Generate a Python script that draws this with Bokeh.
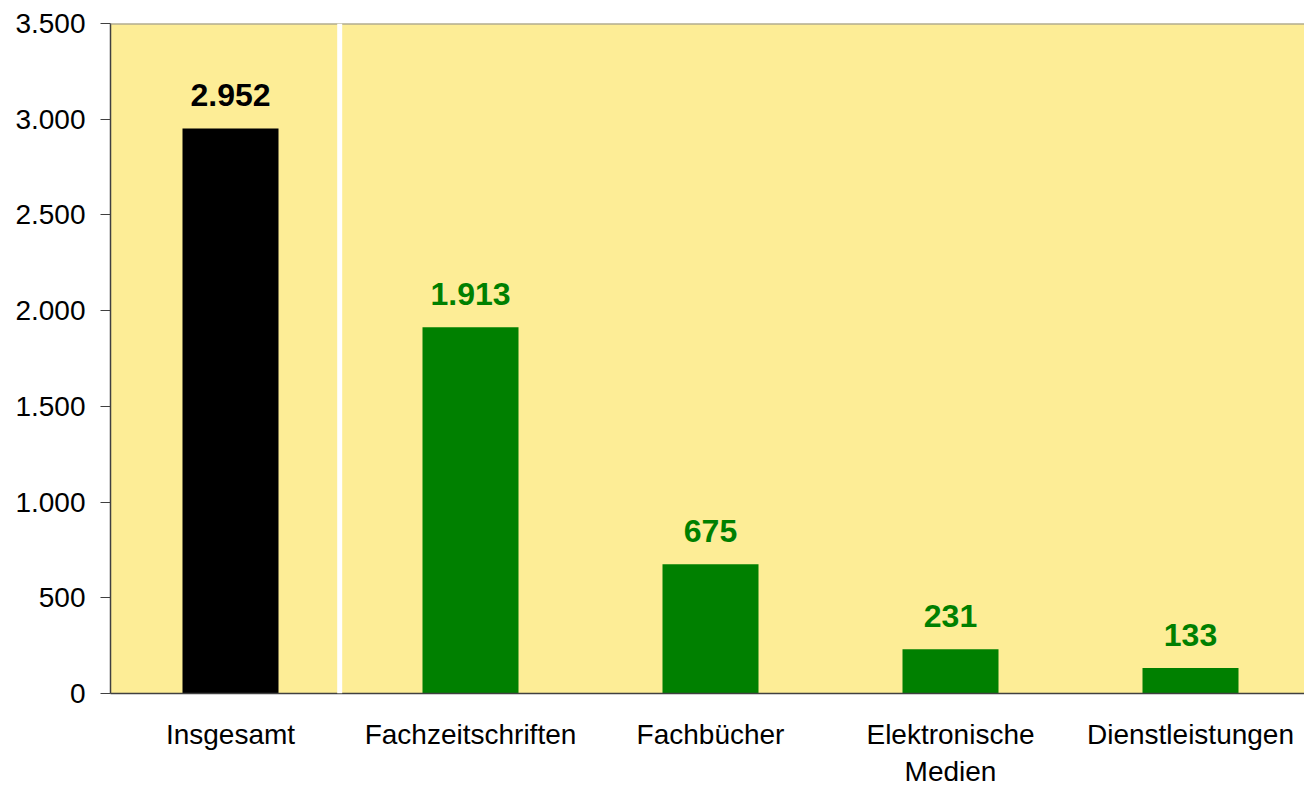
from bokeh.plotting import figure
from bokeh.models import Range1d, FixedTicker, Span, ColumnDataSource
from bokeh.core.properties import value
from bokeh.embed import file_html
from bokeh.resources import INLINE

categories = ["Insgesamt", "Fachzeitschriften", "Fachbücher", "Elektronische\nMedien", "Dienstleistungen"]
values = [2952, 1913, 675, 231, 133]
bar_colors = ["#000000", "#008000", "#008000", "#008000", "#008000"]
y_ticks = [0, 500, 1000, 1500, 2000, 2500, 3000, 3500]

def de_fmt(v):
    return f"{v:,}".replace(",", ".")

positions = list(range(len(categories)))
src = ColumnDataSource(dict(
    x=positions, top=values, color=bar_colors,
    label=[de_fmt(v) for v in values],
))

FONT = "Liberation Sans"
p = figure(width=1304, height=789, output_backend="svg", toolbar_location=None,
           x_range=Range1d(-0.5, 4.475), y_range=Range1d(0, 3500),
           min_border_left=110, min_border_right=0, min_border_top=23, min_border_bottom=90)
p.background_fill_color = "#FDED96"
p.border_fill_color = "white"
p.outline_line_color = None
p.xgrid.grid_line_color = None
p.ygrid.grid_line_color = None

p.vbar(x="x", top="top", width=0.4, bottom=0, color="color", line_color=None, source=src)
p.text(x="x", y="top", text="label", text_color="color", source=src,
       text_align="center", text_baseline="bottom", y_offset=-22,
       text_font=value(FONT), text_font_style="bold", text_font_size="32px")

# y axis
p.yaxis.ticker = FixedTicker(ticks=y_ticks)
p.yaxis.major_label_overrides = {t: de_fmt(t) for t in y_ticks}
p.yaxis.minor_tick_line_color = None
p.yaxis.major_tick_out = 10
p.yaxis.major_tick_in = 0
p.yaxis.major_tick_line_color = "#404040"
p.yaxis.axis_line_color = "#404040"
p.yaxis.axis_line_width = 1.5
p.yaxis.major_label_standoff = 15
p.yaxis.major_label_text_font = FONT
p.yaxis.major_label_text_font_size = "28px"
p.yaxis.major_label_text_color = "black"

# x axis
p.xaxis.ticker = FixedTicker(ticks=positions)
p.xaxis.major_label_overrides = {i: c for i, c in zip(positions, categories)}
p.xaxis.minor_tick_line_color = None
p.xaxis.major_tick_line_color = None
p.xaxis.axis_line_color = "#404040"
p.xaxis.axis_line_width = 1.5
p.xaxis.major_label_standoff = 19
p.xaxis.major_label_text_font = FONT
p.xaxis.major_label_text_font_size = "28px"
p.xaxis.major_label_text_color = "black"

# top border and separator
p.add_layout(Span(location=3500, dimension="width", line_color="#8c8c8c", line_width=2))
p.add_layout(Span(location=0.455, dimension="height", line_color="white", line_width=5))

open("out.html", "w").write(file_html(p, INLINE))
